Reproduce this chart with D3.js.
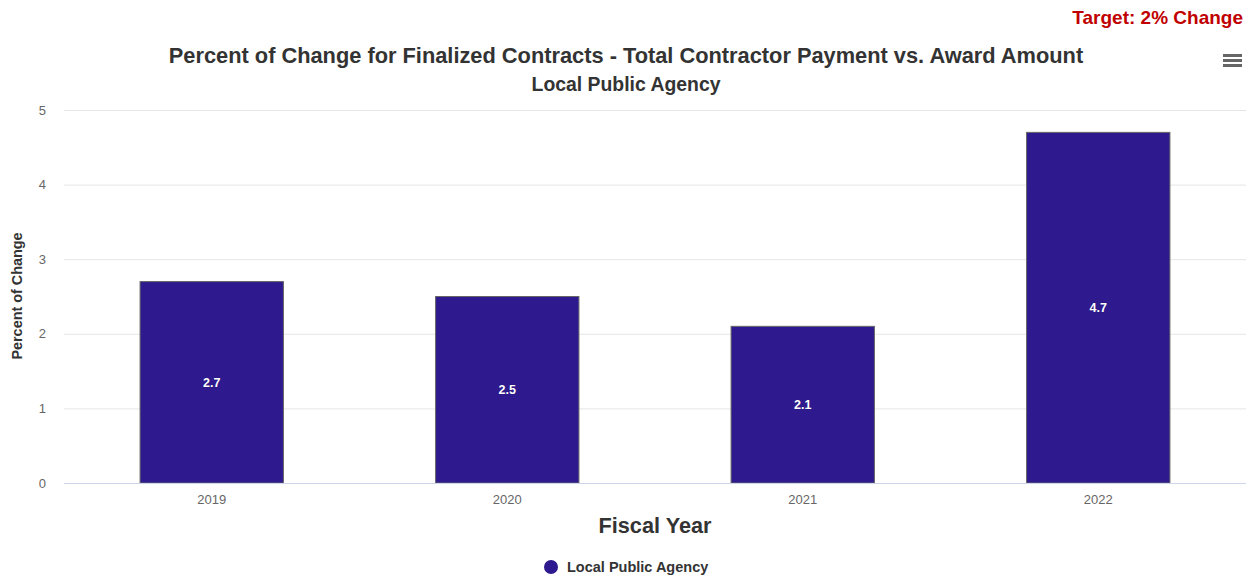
<!DOCTYPE html>
<html><head><meta charset="utf-8">
<script src="https://cdn.jsdelivr.net/npm/d3@7"></script>
<style>body{margin:0;background:#fff;font-family:"Liberation Sans",Arial,sans-serif;}</style>
</head><body><svg id="c" width="1255" height="581"></svg>
<script>
const categories = ["2019","2020","2021","2022"];
const values = [2.7, 2.5, 2.1, 4.7];
const yTicks = [0,1,2,3,4,5];
const seriesName = "Local Public Agency";
const titleText = "Percent of Change for Finalized Contracts - Total Contractor Payment vs. Award Amount";
const subtitleText = "Local Public Agency";
const targetText = "Target: 2% Change";
const xTitle = "Fiscal Year";
const yTitle = "Percent of Change";

const svg = d3.select("#c");
const m = {left:64, right:1246, top:110, bottom:483};
const x = d3.scaleBand().domain(categories).range([m.left, m.right]).paddingInner(0.0).paddingOuter(0);
const y = d3.scaleLinear().domain([0,5]).range([m.bottom, m.top]);
const barColor = "#2e1a8e";

// grid
svg.append("g").selectAll("line").data(yTicks.filter(t=>t>0)).join("line")
  .attr("x1", m.left).attr("x2", m.right)
  .attr("y1", d=>y(d)+0.5).attr("y2", d=>y(d)+0.5)
  .attr("stroke","#e6e6e6").attr("stroke-width",1);

// y axis labels
const yAxis = d3.axisLeft(y).tickValues(yTicks).tickSize(0).tickPadding(0).tickFormat(d3.format("d"));
const ya = svg.append("g").attr("transform",`translate(${46},0)`).call(yAxis);
ya.select(".domain").remove();
ya.selectAll("text").attr("fill","#666").attr("font-size","13px").attr("font-family","Liberation Sans, Arial, sans-serif").attr("dy","0.32em");

// bars
const bw = x.bandwidth()*0.6*0.8 + 1.5;
svg.append("g").selectAll("rect").data(values).join("rect")
  .attr("x", (d,i)=>x(categories[i]) + x.bandwidth()/2 - bw/2)
  .attr("y", d=>y(d))
  .attr("width", bw)
  .attr("height", d=>y(0)-y(d))
  .attr("fill", barColor).attr("stroke","#666").attr("stroke-width",1);

// x axis line
svg.append("line").attr("x1",m.left).attr("x2",m.right).attr("y1",m.bottom+0.5).attr("y2",m.bottom+0.5)
  .attr("stroke","#ccd6eb").attr("stroke-width",1);

// x axis labels
const xAxis = d3.axisBottom(x).tickSize(0).tickPadding(0);
const xa = svg.append("g").attr("transform",`translate(0,${m.bottom})`).call(xAxis);
xa.select(".domain").remove();
xa.selectAll("text").attr("fill","#666").attr("font-size","13px").attr("font-family","Liberation Sans, Arial, sans-serif").attr("dy","0").attr("y",21);

// data labels
svg.append("g").selectAll("text").data(values).join("text")
  .attr("x",(d,i)=>x(categories[i])+x.bandwidth()/2)
  .attr("y", d=>(y(d)+y(0))/2 + 4.5)
  .attr("text-anchor","middle").attr("fill","#fff").attr("font-weight","bold").attr("font-size","12.5px")
  .attr("stroke","#000").attr("stroke-opacity",0.15).attr("stroke-width",1).attr("paint-order","stroke")
  .text(d=>d);

// titles
svg.append("text").attr("x",626).attr("y",63).attr("text-anchor","middle").attr("fill","#333")
  .attr("font-weight","bold").attr("font-size","21.8px").text(titleText);
svg.append("text").attr("x",626).attr("y",91).attr("text-anchor","middle").attr("fill","#333")
  .attr("font-weight","bold").attr("font-size","19.4px").text(subtitleText);
svg.append("text").attr("x",1243).attr("y",24).attr("text-anchor","end").attr("fill","#c00000")
  .attr("font-weight","bold").attr("font-size","19px").text(targetText);

// axis titles
svg.append("text").attr("transform","translate(22,296) rotate(-90)").attr("text-anchor","middle").attr("fill","#333")
  .attr("font-weight","bold").attr("font-size","14.4px").text(yTitle);
svg.append("text").attr("x",655).attr("y",533).attr("text-anchor","middle").attr("fill","#333")
  .attr("font-weight","bold").attr("font-size","21.7px").text(xTitle);

// legend
svg.append("circle").attr("cx",551).attr("cy",567).attr("r",7).attr("fill",barColor);
svg.append("text").attr("x",567).attr("y",572).attr("fill","#333").attr("font-weight","bold").attr("font-size","14.5px").text(seriesName);

// menu icon
[0,5,10].forEach(o=>svg.append("rect").attr("x",1223).attr("y",54+o).attr("width",19).attr("height",3).attr("fill","#666"));
</script></body></html>
